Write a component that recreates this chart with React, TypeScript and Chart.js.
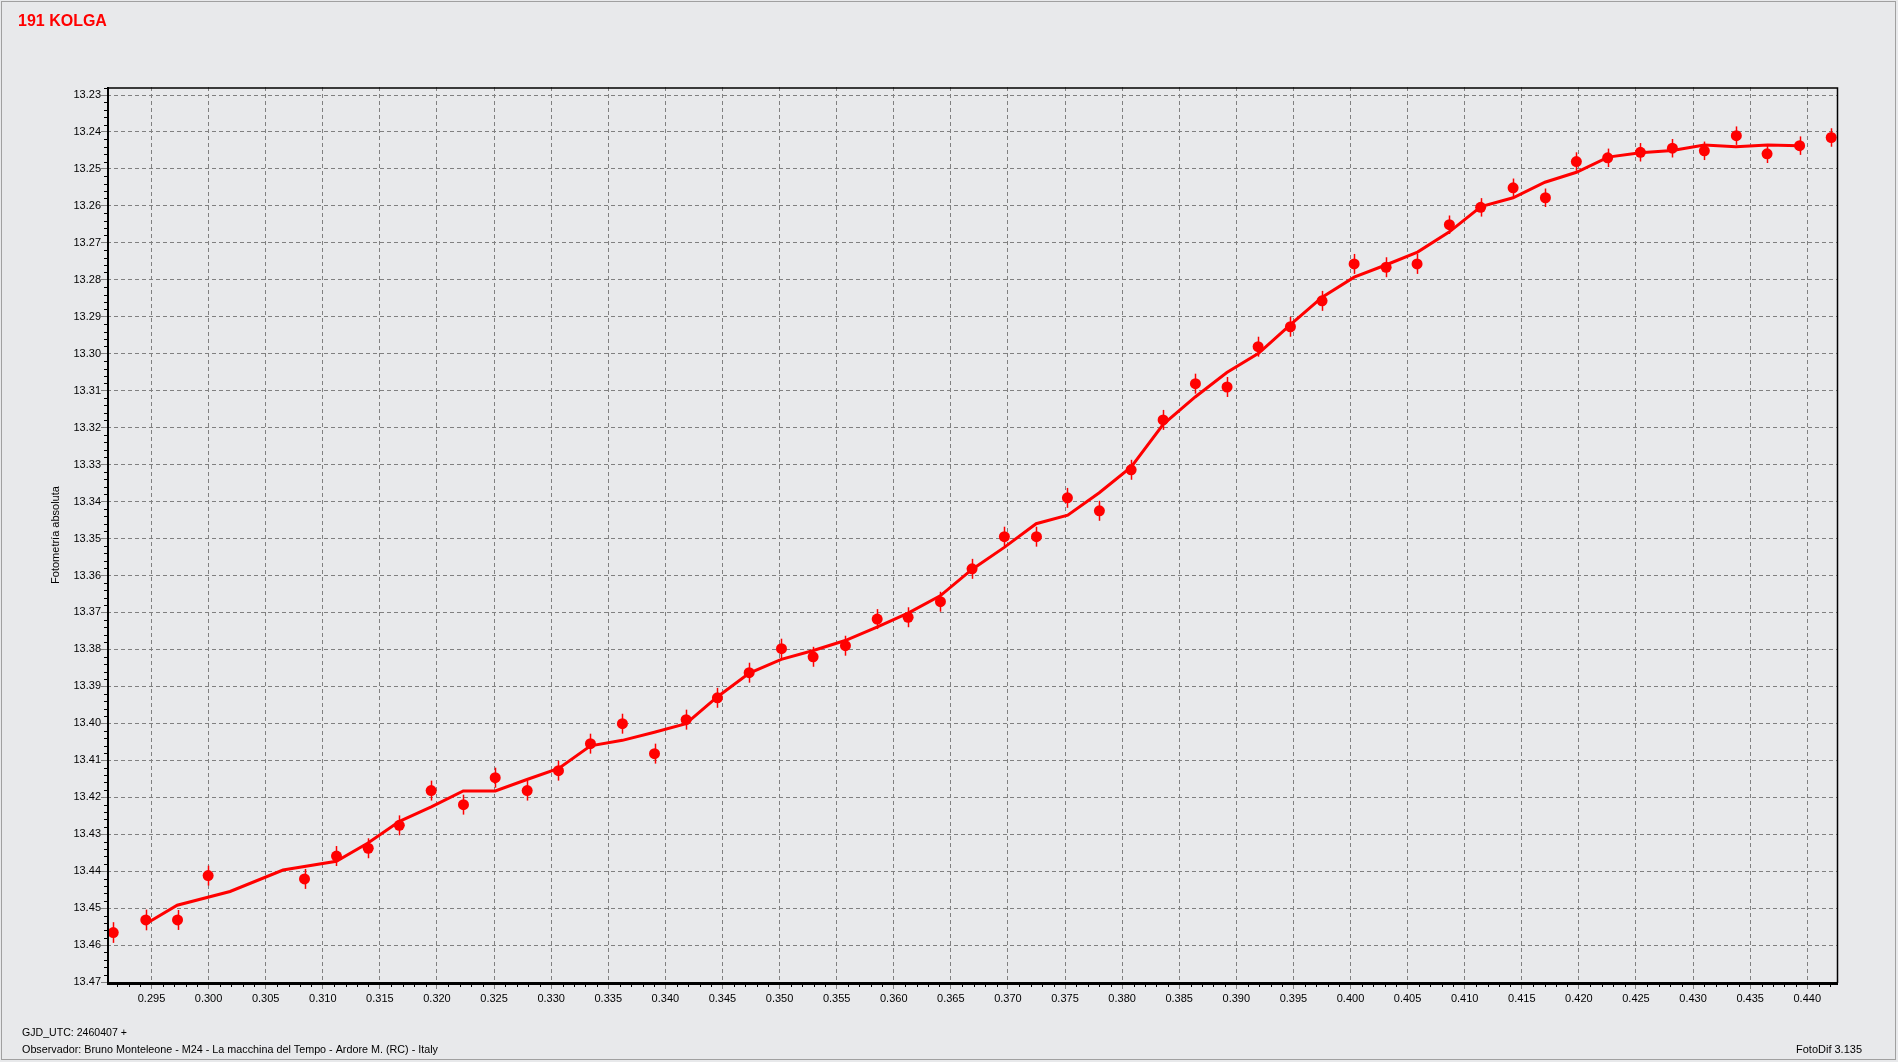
import React, { useEffect, useRef } from 'react';
import Chart from 'chart.js/auto';

const FONT = '"Liberation Sans", Arial, sans-serif';

const TITLE = '191 KOLGA';
const Y_TITLE = 'Fotometría absoluta';
const FOOT_1 = 'GJD_UTC: 2460407 +';
const FOOT_2 = 'Observador: Bruno Monteleone - M24 - La macchina del Tempo - Ardore M. (RC) - Italy';
const FOOT_3 = 'FotoDif 3.135';

const X_VALUES = [
  0.29165, 0.2945, 0.29728, 0.29996, 0.3084, 0.3112, 0.31398, 0.3167, 0.31949, 0.32232,
  0.3251, 0.3279, 0.33064, 0.33344, 0.33624, 0.33905, 0.34182, 0.34456, 0.34734, 0.35017,
  0.35294, 0.35577, 0.35855, 0.36126, 0.36409, 0.36686, 0.36969, 0.3725, 0.37521, 0.37801,
  0.38079, 0.38359, 0.38642, 0.38919, 0.39191, 0.39474, 0.39751, 0.40032, 0.40312, 0.40583,
  0.40866, 0.4114, 0.41424, 0.41707, 0.41978, 0.42252, 0.42539, 0.42819, 0.43099, 0.43379,
  0.43648, 0.43933, 0.4421,
];
const Y_VALUES = [
  13.4566, 13.4532, 13.4532, 13.4412, 13.4421, 13.4359, 13.4338, 13.4276, 13.4182, 13.422,
  13.4147, 13.4182, 13.4128, 13.4055, 13.4001, 13.4082, 13.399, 13.3931, 13.3863, 13.3798,
  13.382, 13.379, 13.3718, 13.3713, 13.3671, 13.3582, 13.3495, 13.3495, 13.339, 13.3425,
  13.3314, 13.3179, 13.3081, 13.309, 13.2981, 13.2927, 13.2857, 13.2757, 13.2766, 13.2757,
  13.2651, 13.2604, 13.2551, 13.2578, 13.248, 13.247, 13.2455, 13.2444, 13.2451, 13.241,
  13.2459, 13.2437, 13.2415,
];
const Y_ERR = [
  0.0028, 0.0028, 0.0027, 0.0027, 0.0027, 0.0027, 0.0027, 0.0027, 0.0027, 0.0027,
  0.0027, 0.0027, 0.0027, 0.0027, 0.0027, 0.0027, 0.0027, 0.0027, 0.0027, 0.0027,
  0.0027, 0.0027, 0.0027, 0.0027, 0.0027, 0.0027, 0.0027, 0.0027, 0.0027, 0.0027,
  0.0027, 0.0027, 0.0027, 0.0027, 0.0027, 0.0027, 0.0027, 0.0027, 0.0027, 0.0027,
  0.0025, 0.0025, 0.0025, 0.0025, 0.0025, 0.0025, 0.0025, 0.0025, 0.0025, 0.0025,
  0.0025, 0.0025, 0.0025,
];

const SMOOTH_X = [
  0.29448, 0.29725, 0.30188, 0.30652, 0.31119, 0.31396, 0.31672, 0.3195, 0.3223, 0.32511,
  0.32788, 0.33066, 0.33344, 0.33624, 0.33904, 0.34181, 0.34457, 0.34736, 0.35015, 0.35296,
  0.35575, 0.35853, 0.3613, 0.36407, 0.36688, 0.36968, 0.37247, 0.37524, 0.378, 0.3808,
  0.3836, 0.3864, 0.38917, 0.39195, 0.39472, 0.39752, 0.40032, 0.40309, 0.40587, 0.40863,
  0.41143, 0.41424, 0.41703, 0.41979, 0.42256, 0.42537, 0.42819, 0.43099, 0.43375, 0.43653,
  0.4393,
];
const SMOOTH_Y = [
  13.4543, 13.4492, 13.4455, 13.4397, 13.4373, 13.4324, 13.4265, 13.4226, 13.4183, 13.4183,
  13.4152, 13.4122, 13.4061, 13.4046, 13.4024, 13.4001, 13.3928, 13.3864, 13.3827, 13.3803,
  13.3776, 13.374, 13.3701, 13.3655, 13.3583, 13.3524, 13.346, 13.3437, 13.3376, 13.3306,
  13.3191, 13.3117, 13.3051, 13.2999, 13.2922, 13.2847, 13.2793, 13.276, 13.2725, 13.2671,
  13.2602, 13.2578, 13.2536, 13.2509, 13.2468, 13.2456, 13.245, 13.2435, 13.244, 13.2435,
  13.2437,
];

const X_TICKS = [
  0.295, 0.3, 0.305, 0.31, 0.315, 0.32, 0.325, 0.33, 0.335, 0.34, 0.345, 0.35, 0.355, 0.36,
  0.365, 0.37, 0.375, 0.38, 0.385, 0.39, 0.395, 0.4, 0.405, 0.41, 0.415, 0.42, 0.425, 0.43,
  0.435, 0.44,
];
const Y_TICKS = [
  13.23, 13.24, 13.25, 13.26, 13.27, 13.28, 13.29, 13.3, 13.31, 13.32, 13.33, 13.34, 13.35,
  13.36, 13.37, 13.38, 13.39, 13.4, 13.41, 13.42, 13.43, 13.44, 13.45, 13.46, 13.47,
];

const X_MIN = 0.291103;
const X_MAX = 0.442605;
const Y_MIN = 13.227835;
const Y_MAX = 13.470255;
const X_MINOR = 0.001;
const Y_MINOR = 0.002;

const RED = '#FF0000';
const BG = '#E8E9EB';
const GRID = '#808080';

const overlay = {
  id: 'overlay',
  beforeDraw(chart: any) {
    const { ctx, width, height } = chart;
    ctx.save();
    ctx.fillStyle = BG;
    ctx.fillRect(0, 0, width, height);
    ctx.restore();
  },
  beforeDatasetsDraw(chart: any) {
    const { ctx, scales } = chart;
    const xs = scales.x;
    const ys = scales.y;
    ctx.save();
    ctx.strokeStyle = RED;
    ctx.lineWidth = 1.5;
    for (let i = 0; i < X_VALUES.length; i++) {
      const px = Math.round(xs.getPixelForValue(X_VALUES[i])) + 0.5;
      const y1 = ys.getPixelForValue(Y_VALUES[i] - Y_ERR[i]);
      const y2 = ys.getPixelForValue(Y_VALUES[i] + Y_ERR[i]);
      ctx.beginPath();
      ctx.moveTo(px, y1);
      ctx.lineTo(px, y2);
      ctx.stroke();
    }
    ctx.restore();
  },
  afterDraw(chart: any) {
    const { ctx, chartArea: ca, scales, width, height } = chart;
    const xs = scales.x;
    const ys = scales.y;
    ctx.save();

    // minor ticks
    ctx.strokeStyle = '#000';
    ctx.lineWidth = 1;
    const kx0 = Math.ceil(X_MIN / X_MINOR - 1e-6);
    const kx1 = Math.floor(X_MAX / X_MINOR + 1e-6);
    for (let k = kx0; k <= kx1; k++) {
      if (k % 5 === 0) continue;
      const px = Math.round(xs.getPixelForValue(k * X_MINOR)) + 0.5;
      ctx.beginPath();
      ctx.moveTo(px, ca.bottom + 1);
      ctx.lineTo(px, ca.bottom + 4);
      ctx.stroke();
    }
    const ky0 = Math.ceil(Y_MIN / Y_MINOR - 1e-6);
    const ky1 = Math.floor(Y_MAX / Y_MINOR + 1e-6);
    for (let k = ky0; k <= ky1; k++) {
      if (k % 5 === 0) continue;
      const py = Math.round(ys.getPixelForValue(k * Y_MINOR)) + 0.5;
      ctx.beginPath();
      ctx.moveTo(ca.left - 3, py);
      ctx.lineTo(ca.left, py);
      ctx.stroke();
    }

    // plot frame
    ctx.strokeStyle = '#000';
    ctx.lineWidth = 1.5;
    ctx.beginPath();
    ctx.moveTo(ca.left, ca.top + 1);
    ctx.lineTo(ca.right + 0.5, ca.top + 1);
    ctx.lineTo(ca.right + 0.5, ca.bottom);
    ctx.stroke();
    ctx.lineWidth = 2;
    ctx.beginPath();
    ctx.moveTo(ca.left + 1, ca.top);
    ctx.lineTo(ca.left + 1, ca.bottom + 2);
    ctx.stroke();
    ctx.lineWidth = 3;
    ctx.beginPath();
    ctx.moveTo(ca.left, ca.bottom + 0.5);
    ctx.lineTo(ca.right + 1, ca.bottom + 0.5);
    ctx.stroke();

    // outer frame
    ctx.strokeStyle = '#A0A0A0';
    ctx.lineWidth = 1;
    ctx.strokeRect(1.5, 1.5, width - 4, height - 4);

    // title
    ctx.fillStyle = RED;
    ctx.font = `bold 16px ${FONT}`;
    ctx.textAlign = 'left';
    ctx.textBaseline = 'alphabetic';
    ctx.fillText(TITLE, 18, 26);

    // y title
    ctx.fillStyle = '#000';
    ctx.font = `11px ${FONT}`;
    ctx.save();
    ctx.translate(58.5, (ca.top + ca.bottom) / 2);
    ctx.rotate(-Math.PI / 2);
    ctx.textAlign = 'center';
    ctx.fillText(Y_TITLE, 0, 0);
    ctx.restore();

    // footer
    ctx.font = `11px ${FONT}`;
    ctx.textAlign = 'left';
    ctx.fillText(FOOT_1, 22, 1036, 105);
    ctx.fillText(FOOT_2, 22, 1053, 416);
    ctx.textAlign = 'right';
    ctx.fillText(FOOT_3, 1862, 1053, 66);

    ctx.restore();
  },
};

export default function App() {
  const ref = useRef<HTMLCanvasElement>(null);
  useEffect(() => {
    const canvas = ref.current;
    if (!canvas) return;
    const tickFont = { family: FONT, size: 11 };
    const chart = new Chart(canvas, {
      type: 'scatter',
      data: {
        datasets: [
          {
            type: 'line',
            label: 'media',
            data: SMOOTH_X.map((x, i) => ({ x, y: SMOOTH_Y[i] })),
            borderColor: RED,
            backgroundColor: RED,
            borderWidth: 3,
            pointRadius: 0,
            tension: 0,
            fill: false,
          } as any,
          {
            type: 'scatter',
            label: 'obs',
            data: X_VALUES.map((x, i) => ({ x, y: Y_VALUES[i] })),
            pointRadius: 5.5,
            pointBackgroundColor: RED,
            pointBorderColor: RED,
            pointBorderWidth: 0,
            showLine: false,
            clip: false,
          } as any,
        ],
      },
      options: {
        responsive: false,
        animation: false,
        devicePixelRatio: 1,
        events: [],
        layout: { padding: { left: 57, right: 61, top: 87, bottom: 39 } },
        plugins: { legend: { display: false }, tooltip: { enabled: false }, title: { display: false } },
        scales: {
          x: {
            type: 'linear',
            position: 'bottom',
            min: X_MIN,
            max: X_MAX,
            afterBuildTicks: (s: any) => {
              s.ticks = X_TICKS.map((v) => ({ value: v }));
            },
            afterFit: (s: any) => {
              s.height = 40;
            },
            ticks: {
              autoSkip: false,
              maxRotation: 0,
              minRotation: 0,
              padding: 3,
              color: '#000',
              font: tickFont,
              callback: (v: any) => Number(v).toFixed(3),
            },
            grid: {
              color: GRID,
              lineWidth: 1,
              drawTicks: true,
              tickLength: 6,
              tickColor: GRID,
              tickBorderDash: [],
            },
            border: { display: false, dash: [4, 3] },
          },
          y: {
            type: 'linear',
            reverse: true,
            min: Y_MIN,
            max: Y_MAX,
            afterBuildTicks: (s: any) => {
              s.ticks = Y_TICKS.map((v) => ({ value: v }));
            },
            afterFit: (s: any) => {
              s.width = 50;
            },
            ticks: {
              autoSkip: false,
              padding: 0,
              color: '#000',
              font: tickFont,
              callback: (v: any) => Number(v).toFixed(2),
            },
            grid: {
              color: GRID,
              lineWidth: 1,
              drawTicks: true,
              tickLength: 6,
              tickColor: GRID,
              tickBorderDash: [],
            },
            border: { display: false, dash: [4, 3] },
          },
        },
      } as any,
      plugins: [overlay],
    });
    return () => chart.destroy();
  }, []);
  return (
    <div style={{ position: 'absolute', left: 0, top: 0, width: 1898, height: 1062 }}>
      <canvas ref={ref} width={1898} height={1062} style={{ display: 'block', width: 1898, height: 1062 }} />
    </div>
  );
}
